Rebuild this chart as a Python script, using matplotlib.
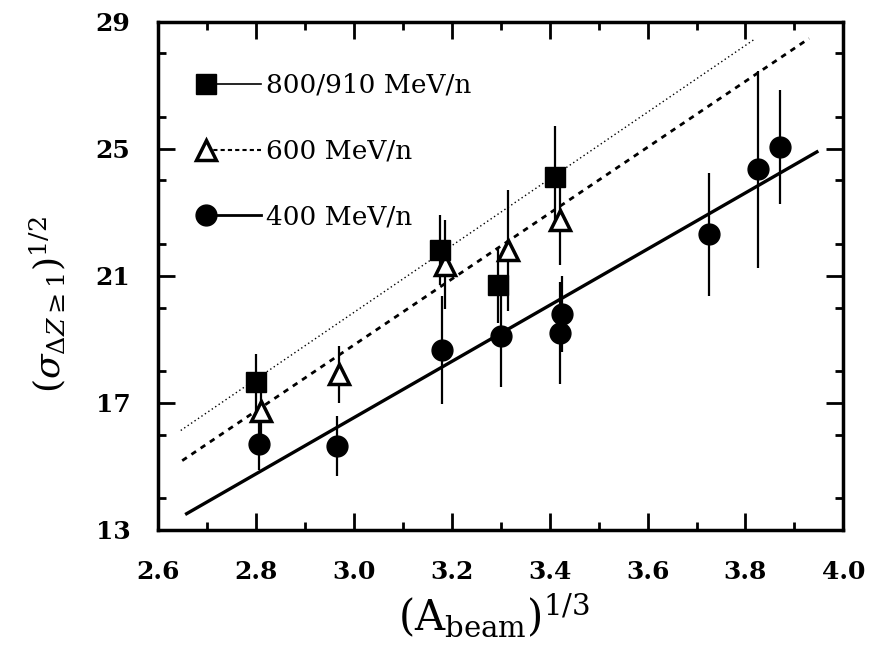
import numpy as np
import matplotlib
matplotlib.use('Agg')
import matplotlib.pyplot as plt
from matplotlib.lines import Line2D
from matplotlib.legend_handler import HandlerLine2D
from matplotlib.ticker import MultipleLocator

plt.rcParams['font.family'] = ['DejaVu Serif']
plt.rcParams['mathtext.fontset'] = 'dejavuserif'

# ---- data ----
x_800 = [2.80, 3.175, 3.295, 3.41]
y_800 = [17.65, 21.8, 20.7, 24.1]
e_800 = [0.9, 1.1, 1.2, 1.6]

x_600 = [2.81, 2.97, 3.185, 3.315, 3.42]
y_600 = [16.75, 17.9, 21.35, 21.8, 22.75]
e_600 = [0.9, 0.9, 1.4, 1.9, 1.4]

x_400 = [2.805, 2.965, 3.18, 3.30, 3.425, 3.42, 3.725, 3.825, 3.87]
y_400 = [15.7, 15.65, 18.65, 19.1, 19.8, 19.2, 22.3, 24.35, 25.05]
e_400 = [0.8, 0.95, 1.7, 1.6, 1.2, 1.6, 1.95, 3.1, 1.8]

fit_x_800 = [2.646, 3.817]
fit_y_800 = [16.13, 28.43]
fit_x_600 = [2.649, 3.93]
fit_y_600 = [15.18, 28.47]
fit_x_400 = [2.658, 3.946]
fit_y_400 = [13.51, 24.9]

labels = ['800/910 MeV/n', '600 MeV/n', '400 MeV/n']
x_ticks = [2.6, 2.8, 3.0, 3.2, 3.4, 3.6, 3.8, 4.0]
y_ticks = [13, 17, 21, 25, 29]

fig = plt.figure(figsize=(8.84, 6.55), dpi=100)
ax = fig.add_axes([0.179, 0.191, 0.775, 0.776])

# fit lines
ax.plot(fit_x_800, fit_y_800, color='black', lw=1.0, ls=(0, (1, 2)))
ax.plot(fit_x_600, fit_y_600, color='black', lw=2.0, ls=(0, (2, 2)))
ax.plot(fit_x_400, fit_y_400, color='black', lw=2.4, ls='-')

# error bars
ax.errorbar(x_400, y_400, yerr=e_400, fmt='none', ecolor='black', elinewidth=1.6, capsize=0)
ax.errorbar(x_600, y_600, yerr=e_600, fmt='none', ecolor='black', elinewidth=1.6, capsize=0)
ax.errorbar(x_800, y_800, yerr=e_800, fmt='none', ecolor='black', elinewidth=1.6, capsize=0)

# markers
ax.plot(x_400, y_400, 'o', ms=15, mfc='black', mec='black', ls='none', zorder=5)
ax.plot(x_600, y_600, '^', ms=14, mfc='white', mec='black', mew=2.5, ls='none', zorder=5)
ax.plot(x_800, y_800, 's', ms=15, mfc='black', mec='black', ls='none', zorder=5)

ax.set_xlim(2.6, 4.0)
ax.set_ylim(13, 29)
ax.set_xticks(x_ticks)
ax.set_yticks(y_ticks)
ax.xaxis.set_minor_locator(MultipleLocator(0.1))
ax.yaxis.set_minor_locator(MultipleLocator(2))
ax.set_xticklabels([f'{v:.1f}' for v in x_ticks])
ax.set_yticklabels([str(v) for v in y_ticks])
ax.tick_params(which='both', direction='in', top=True, right=True, width=2)
ax.tick_params(which='major', length=12, labelsize=18)
ax.tick_params(axis='x', which='major', pad=22)
ax.tick_params(axis='y', which='major', pad=20)
ax.tick_params(which='minor', length=6)
for lab in ax.get_xticklabels() + ax.get_yticklabels():
    lab.set_fontweight('bold')
for s in ax.spines.values():
    s.set_linewidth(2.5)

ax.set_xlabel(r'$(\mathrm{A}_{\mathrm{beam}})^{1/3}$', fontsize=30)
ax.xaxis.set_label_coords(0.49, -0.12)
ax.set_ylabel(r'$(\sigma_{\Delta Z \geq 1})^{1/2}$', fontsize=26)
ax.yaxis.set_label_coords(-0.131, 0.443)


class LeftMarkerHandler(HandlerLine2D):
    def create_artists(self, legend, orig_handle, xdescent, ydescent, width, height, fontsize, trans):
        arts = super().create_artists(legend, orig_handle, xdescent, ydescent, width, height, fontsize, trans)
        for a in arts:
            if isinstance(a, Line2D) and a.get_markevery() is not None:
                a.set_markevery([0])
        return arts


handles = [
    Line2D([], [], color='black', lw=1.2, ls='-', marker='s', ms=15, mfc='black', mec='black'),
    Line2D([], [], color='black', lw=1.5, ls=(0, (2, 1.5)), marker='^', ms=14, mfc='white', mec='black', mew=2.5),
    Line2D([], [], color='black', lw=2.0, ls='-', marker='o', ms=15, mfc='black', mec='black'),
]
leg = ax.legend(handles, labels, loc='upper left', bbox_to_anchor=(0.05, 0.925),
                frameon=False, fontsize=19, numpoints=1, handlelength=2.1,
                handletextpad=0.2, labelspacing=1.55, borderpad=0,
                handler_map={Line2D: LeftMarkerHandler()})

fig.savefig('out.png', dpi=100)
